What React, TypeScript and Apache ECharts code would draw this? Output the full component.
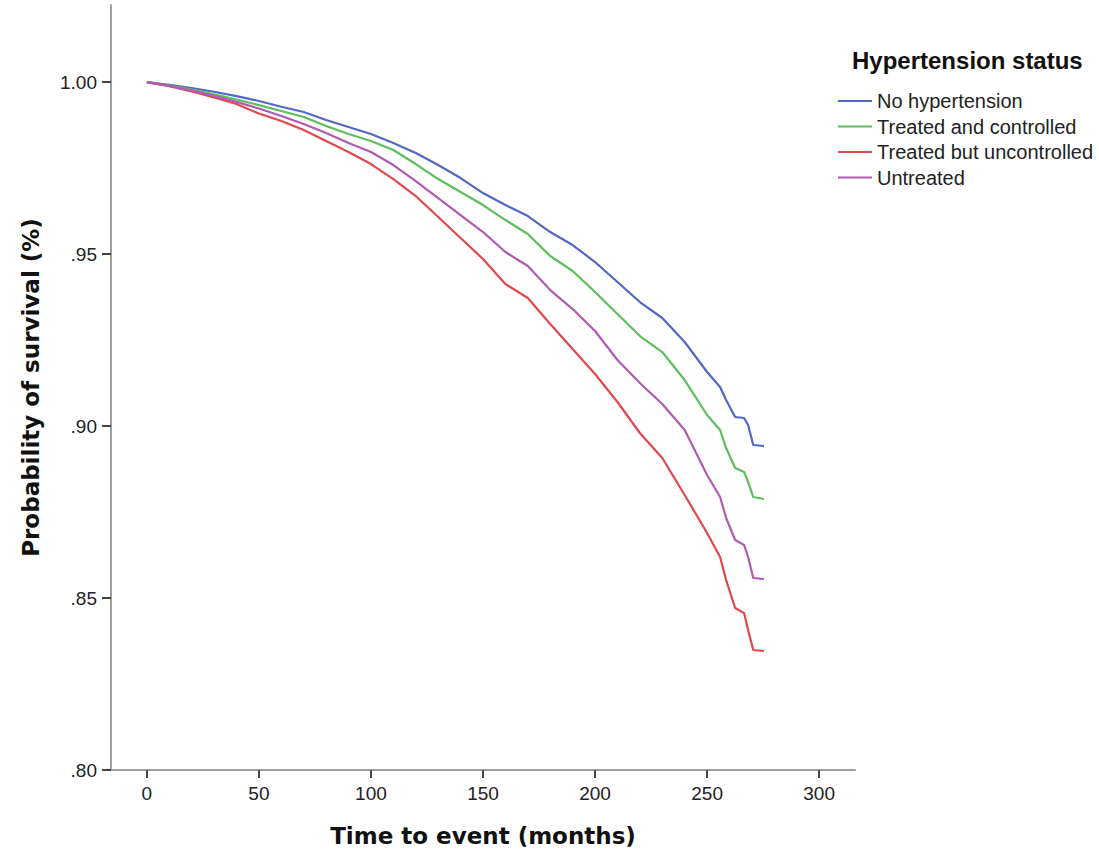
import React, { useEffect, useRef } from "react";
import * as echarts from "echarts";

const times = [0, 10, 20, 30, 40, 50, 60, 70, 80, 90, 100, 110, 120, 130, 140, 150, 160, 170, 180, 190, 200, 210, 220, 230, 240, 250, 255.8, 258.5, 262.5, 266.5, 268.3, 270.6, 275.4];

const noHypertension = [1.0, 0.99922, 0.99828, 0.99718, 0.9959, 0.99448, 0.99282, 0.99128, 0.98895, 0.98692, 0.98488, 0.98227, 0.97936, 0.97587, 0.97209, 0.96773, 0.96424, 0.96105, 0.9564, 0.95262, 0.94767, 0.94186, 0.93605, 0.9314, 0.92442, 0.9157, 0.91134, 0.90756, 0.90262, 0.90233, 0.90029, 0.89448, 0.89419];
const treatedControlled = [1.0, 0.99895, 0.99779, 0.99645, 0.99494, 0.99331, 0.99157, 0.98983, 0.98721, 0.98488, 0.98285, 0.98023, 0.97616, 0.9718, 0.96802, 0.96424, 0.95988, 0.95581, 0.94942, 0.94506, 0.93895, 0.93256, 0.92616, 0.92151, 0.91337, 0.9032, 0.89884, 0.8936, 0.88779, 0.88663, 0.88372, 0.87936, 0.87878];
const treatedUncontrolled = [1.0, 0.99878, 0.99727, 0.99552, 0.9936, 0.99084, 0.98866, 0.98605, 0.98285, 0.97965, 0.97616, 0.9718, 0.96686, 0.96076, 0.95465, 0.94855, 0.94128, 0.93721, 0.92965, 0.92238, 0.91512, 0.90698, 0.89797, 0.8907, 0.87994, 0.8689, 0.86192, 0.85523, 0.84709, 0.84564, 0.8407, 0.83488, 0.83459];
const untreated = [1.0, 0.99885, 0.99751, 0.99597, 0.99423, 0.9923, 0.99012, 0.98779, 0.98517, 0.98227, 0.97965, 0.97587, 0.97122, 0.96628, 0.96134, 0.9564, 0.95058, 0.94651, 0.93953, 0.93401, 0.92762, 0.91919, 0.9125, 0.9064, 0.89884, 0.88576, 0.87936, 0.87326, 0.86686, 0.86541, 0.86192, 0.85581, 0.85552];

const seriesNames = ["No hypertension", "Treated and controlled", "Treated but uncontrolled", "Untreated"];
const seriesValues = [noHypertension, treatedControlled, treatedUncontrolled, untreated];
const seriesColors = ["#5168c4", "#5cbf5c", "#e0484c", "#b05ab2"];

const xTicks = [0, 50, 100, 150, 200, 250, 300];
const yTicks = [0.8, 0.85, 0.9, 0.95, 1.0];

const fmtY = (v: number) => (Math.abs(v - 1) < 1e-9 ? "1.00" : v.toFixed(2).replace(/^0/, ""));

export default function App() {
  const ref = useRef<HTMLDivElement>(null);
  useEffect(() => {
    if (!ref.current) return;
    const chart = echarts.init(ref.current, null, { renderer: "svg" });
    chart.setOption({
      animation: false,
      backgroundColor: "#ffffff",
      title: {
        text: "Hypertension status",
        left: 852,
        top: 48,
        padding: 0,
        textStyle: { fontFamily: "Liberation Sans, Arial", fontWeight: "bold", fontSize: 24, color: "#111" },
      },
      legend: {
        orient: "vertical",
        left: 838,
        top: 91,
        padding: 0,
        icon: "rect",
        itemWidth: 34,
        itemHeight: 2,
        itemGap: 5.5,
        data: seriesNames,
        textStyle: { fontFamily: "Liberation Sans, Arial", fontSize: 20, color: "#222" },
      },
      grid: { left: 111, right: 244, top: 5, bottom: 83, containLabel: false },
      xAxis: {
        type: "value",
        min: -16,
        max: 316,
        name: "Time to event (months)",
        nameLocation: "middle",
        nameGap: 54,
        nameTextStyle: { fontFamily: "DejaVu Sans", fontWeight: "bold", fontSize: 23, color: "#111" },
        axisLine: { show: true, onZero: false, lineStyle: { color: "#a0a0a0", width: 2 } },
        axisTick: { show: true, length: 8, customValues: xTicks, lineStyle: { color: "#444", width: 2 } },
        axisLabel: { customValues: xTicks, margin: 14, fontFamily: "Liberation Sans, Arial", fontSize: 19, color: "#222" },
        splitLine: { show: false },
      },
      yAxis: {
        type: "value",
        min: 0.8,
        max: 1.0224,
        name: "Probability of survival (%)",
        nameLocation: "middle",
        nameGap: 69,
        nameRotate: 90,
        nameTextStyle: { fontFamily: "DejaVu Sans", fontWeight: "bold", fontSize: 23, color: "#111" },
        axisLine: { show: true, onZero: false, lineStyle: { color: "#a0a0a0", width: 2 } },
        axisTick: { show: true, length: 9, customValues: yTicks, lineStyle: { color: "#444", width: 2 } },
        axisLabel: { customValues: yTicks, margin: 14, formatter: fmtY, fontFamily: "Liberation Sans, Arial", fontSize: 19, color: "#222" },
        splitLine: { show: false },
      },
      series: seriesNames.map((name, i) => ({
        name,
        type: "line",
        symbol: "none",
        showSymbol: false,
        data: times.map((t, j) => [t, seriesValues[i][j]]),
        lineStyle: { color: seriesColors[i], width: 2.2 },
        itemStyle: { color: seriesColors[i] },
      })),
    });
    return () => chart.dispose();
  }, []);
  return <div ref={ref} style={{ position: "absolute", left: 0, top: 0, width: 1099, height: 853 }} />;
}
